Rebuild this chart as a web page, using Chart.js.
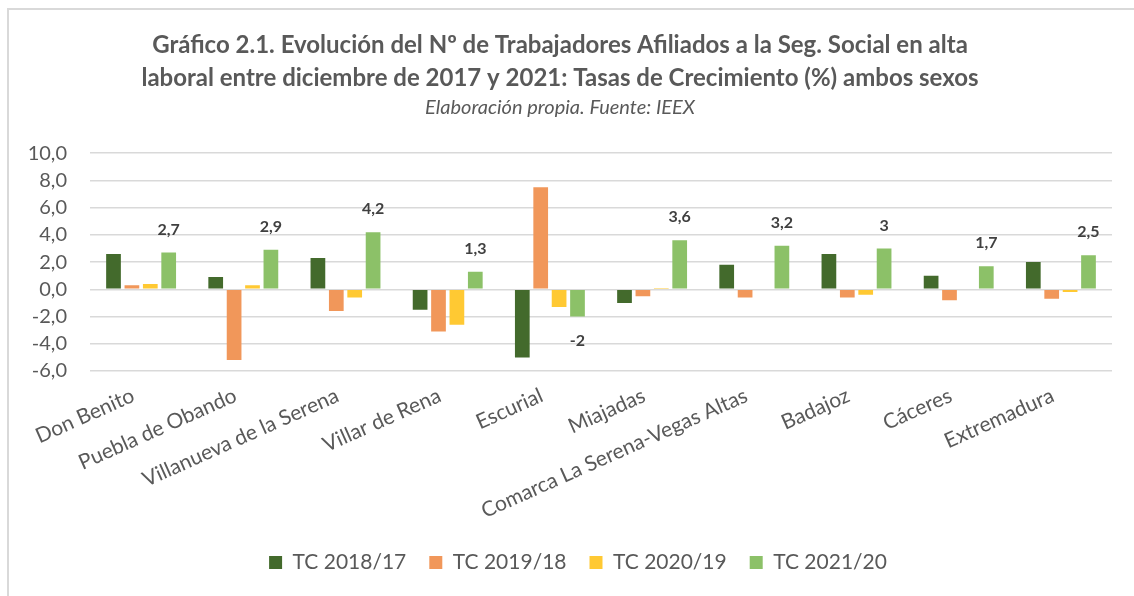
<!DOCTYPE html>
<html>
<head>
<meta charset="utf-8">
<script src="https://cdn.jsdelivr.net/npm/chart.js@4.4.0/dist/chart.umd.min.js"></script>
<style>
  html, body { margin: 0; padding: 0; background: #fff; }
  #wrap { width: 1134px; height: 596px; }
</style>
</head>
<body>
<div id="wrap"><canvas id="chart" width="1134" height="596"></canvas></div>
<script>
// Categories (municipios / ámbitos)
const categories = ['Don Benito', 'Puebla de Obando', 'Villanueva de la Serena', 'Villar de Rena', 'Escurial',
    'Miajadas', 'Comarca La Serena-Vegas Altas', 'Badajoz', 'Cáceres', 'Extremadura'];

// Growth rates (%)
const tc2018 = [2.6, 0.9, 2.3, -1.5, -5.0, -1.0, 1.8, 2.6, 1.0, 2.0];
const tc2019 = [0.3, -5.2, -1.6, -3.1, 7.5, -0.5, -0.6, -0.6, -0.8, -0.7];
const tc2020 = [0.4, 0.3, -0.6, -2.6, -1.3, 0.1, 0.0, -0.4, 0.0, -0.2];
const tc2021 = [2.7, 2.9, 4.2, 1.3, -2, 3.6, 3.2, 3, 1.7, 2.5];

const seriesNames = ['TC 2018/17', 'TC 2019/18', 'TC 2020/19', 'TC 2021/20'];
const seriesColors = ['#436a2c', '#f1975a', '#ffc933', '#8cc168'];

const yMin = -6, yMax = 10, yStep = 2;

const FONT = 'Lato, "Open Sans", sans-serif';
const GRAY = '#595959';

// frame round the chart, like the spreadsheet chart box
const framePlugin = {
    id: 'frame',
    beforeDraw(chart) {
        const ctx = chart.ctx;
        ctx.save();
        ctx.fillStyle = '#fff';
        ctx.fillRect(0, 0, chart.width, chart.height);
        ctx.strokeStyle = '#d9d9d9';
        ctx.lineWidth = 2;
        ctx.strokeRect(8, 9, chart.width + 10, chart.height + 10);
        ctx.restore();
    },
    // legend sits a bit right of centre in the original
    afterLayout(chart) {
        chart.legend.left += 18;
        chart.legend.right += 18;
    }
};

// value labels on the last series only
const valueLabels = {
    id: 'valueLabels',
    afterDatasetsDraw(chart) {
        const ctx = chart.ctx;
        const meta = chart.getDatasetMeta(3);
        ctx.save();
        ctx.font = 'bold 16px ' + FONT;
        ctx.fillStyle = '#404040';
        ctx.textAlign = 'center';
        ctx.textBaseline = 'middle';
        meta.data.forEach((bar, i) => {
            const v = tc2021[i];
            const y = v >= 0 ? bar.y - 23 : bar.y + 24;
            ctx.fillText(String(v).replace('.', ','), bar.x, y);
        });
        ctx.restore();
    }
};

const datasets = [tc2018, tc2019, tc2020, tc2021].map((d, i) => ({
    label: seriesNames[i],
    data: d,
    backgroundColor: seriesColors[i],
    borderWidth: 0,
    categoryPercentage: 0.72,
    barPercentage: 0.8
}));

new Chart(document.getElementById('chart'), {
    type: 'bar',
    data: { labels: categories, datasets: datasets },
    plugins: [framePlugin, valueLabels],
    options: {
        responsive: false,
        animation: false,
        layout: { padding: { left: 8, right: 22, top: 10, bottom: 13 } },
        plugins: {
            title: {
                display: true,
                text: ['Gráfico 2.1. Evolución del Nº de Trabajadores Afiliados a la Seg. Social en alta',
                       'laboral entre diciembre de 2017 y 2021: Tasas de Crecimiento (%) ambos sexos'],
                color: GRAY,
                font: { family: FONT, size: 24, weight: 'bold', lineHeight: 1.4 },
                padding: { top: 18, bottom: 0 }
            },
            subtitle: {
                display: true,
                text: 'Elaboración propia. Fuente: IEEX',
                color: GRAY,
                font: { family: FONT, size: 20, style: 'italic', lineHeight: 1.2 },
                padding: { top: 0, bottom: 34 }
            },
            legend: {
                position: 'bottom',
                labels: {
                    color: GRAY,
                    font: { family: FONT, size: 21 },
                    boxWidth: 13,
                    boxHeight: 13,
                    padding: 23
                }
            },
            tooltip: { enabled: false }
        },
        scales: {
            x: {
                grid: { display: false, drawTicks: false },
                border: { display: false },
                ticks: {
                    color: GRAY,
                    font: { family: FONT, size: 21 },
                    minRotation: 24,
                    maxRotation: 24,
                    autoSkip: false,
                    padding: 12,
                    labelOffset: -8
                },
                afterFit(scale) { scale.height = 158; }
            },
            y: {
                min: yMin,
                max: yMax,
                grid: { color: '#d9d9d9', lineWidth: 1.5, drawTicks: false },
                border: { display: false },
                ticks: {
                    stepSize: yStep,
                    color: GRAY,
                    font: { family: FONT, size: 20 },
                    padding: 23,
                    callback: v => v.toFixed(1).replace('.', ',')
                },
                afterFit(scale) { scale.width = 82; }
            }
        }
    }
});
</script>
</body>
</html>
